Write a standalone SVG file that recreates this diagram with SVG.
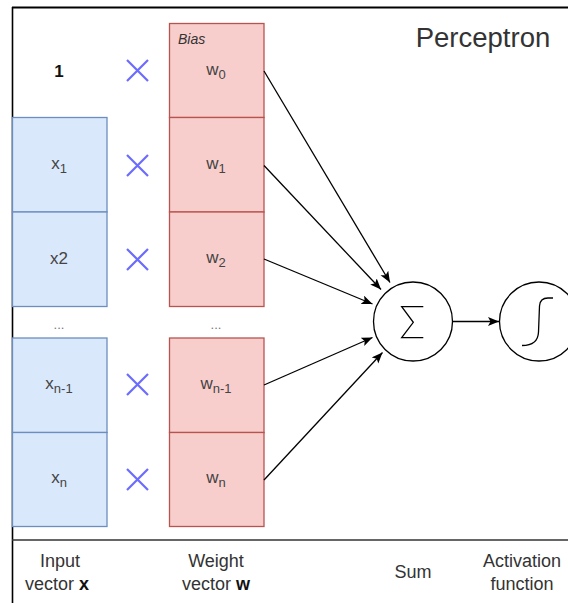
<svg xmlns="http://www.w3.org/2000/svg" width="568" height="603" viewBox="0 0 568 603">
<style>
.bx{fill:#dae8fc;stroke:#6c8ebf;stroke-width:1.3}
.wx{fill:#f8cecc;stroke:#b85450;stroke-width:1.3}
.lb{font-family:"Liberation Sans",Arial,sans-serif;font-size:17px;fill:#444444;text-anchor:middle}
.sub{font-size:13px}
.mul{stroke:#6b6bff;stroke-width:2.2;fill:none}
.cn{stroke:#000;stroke-width:1.3;fill:none;marker-end:url(#ah)}
.bt{font-family:"Liberation Sans",Arial,sans-serif;font-size:18px;fill:#333333;text-anchor:middle}
.circ{fill:#fff;stroke:#000;stroke-width:1.3}
</style>
<defs>
<marker id="ah" markerUnits="userSpaceOnUse" markerWidth="12" markerHeight="10" refX="11" refY="4.5" orient="auto">
<path d="M0,0 L11,4.5 L0,9 L2.5,4.5 z" fill="#000"/>
</marker>
</defs>
<rect width="568" height="603" fill="#fff"/>
<g id="frame">
<line x1="12" y1="7.5" x2="568" y2="7.5" stroke="#000" stroke-width="2"/>
<line x1="12.5" y1="7" x2="12.5" y2="603" stroke="#000" stroke-width="1.6"/>
<line x1="12" y1="540" x2="568" y2="540" stroke="#333" stroke-width="1.6"/>
</g>
<text x="483" y="47" style="font-family:'Liberation Sans',Arial,sans-serif;font-size:27.5px;fill:#333333;text-anchor:middle">Perceptron</text>
<g id="one"><text x="59" y="77" style="font-family:'Liberation Sans',Arial,sans-serif;font-size:17px;font-weight:bold;fill:#111;text-anchor:middle">1</text></g>
<g id="x1"><rect class="bx" x="12.5" y="117.5" width="94.5" height="94.5"/><text class="lb" x="59" y="169">x<tspan class="sub" dy="4">1</tspan></text></g>
<g id="x2"><rect class="bx" x="12.5" y="212" width="94.5" height="94.5"/><text class="lb" x="59" y="264">x2</text></g>
<g id="xdots"><text class="lb" x="59" y="329" style="font-size:13px;fill:#777">...</text></g>
<g id="xn1"><rect class="bx" x="12.5" y="338" width="94.5" height="94.5"/><text class="lb" x="59" y="389">x<tspan class="sub" dy="4">n-1</tspan></text></g>
<g id="xn"><rect class="bx" x="12.5" y="432.5" width="94.5" height="94"/><text class="lb" x="59" y="483">x<tspan class="sub" dy="4">n</tspan></text></g>
<g id="mults">
<path class="mul" d="M127,60 L148,81 M148,60 L127,81"/>
<path class="mul" d="M127,155 L148,176 M148,155 L127,176"/>
<path class="mul" d="M127,249 L148,270 M148,249 L127,270"/>
<path class="mul" d="M127,374 L148,395 M148,374 L127,395"/>
<path class="mul" d="M127,469 L148,490 M148,469 L127,490"/>
</g>
<g id="w0"><rect class="wx" x="169.5" y="23.5" width="94.5" height="94"/><text x="178" y="44" style="font-family:'Liberation Sans',Arial,sans-serif;font-size:14px;font-style:italic;fill:#333">Bias</text><text class="lb" x="216" y="75">w<tspan class="sub" dy="4">0</tspan></text></g>
<g id="w1"><rect class="wx" x="169.5" y="117.5" width="94.5" height="94.5"/><text class="lb" x="216" y="169">w<tspan class="sub" dy="4">1</tspan></text></g>
<g id="w2"><rect class="wx" x="169.5" y="212" width="94.5" height="94.5"/><text class="lb" x="216" y="263">w<tspan class="sub" dy="4">2</tspan></text></g>
<g id="wdots"><text class="lb" x="216" y="329" style="font-size:13px;fill:#777">...</text></g>
<g id="wn1"><rect class="wx" x="169.5" y="338" width="94.5" height="94.5"/><text class="lb" x="216" y="389">w<tspan class="sub" dy="4">n-1</tspan></text></g>
<g id="wn"><rect class="wx" x="169.5" y="432.5" width="94.5" height="94"/><text class="lb" x="216" y="483">w<tspan class="sub" dy="4">n</tspan></text></g>
<g id="connectors">
<line class="cn" x1="264" y1="71" x2="390" y2="282.5"/>
<line class="cn" x1="264" y1="165.5" x2="381" y2="289.5"/>
<line class="cn" x1="264" y1="259" x2="372.5" y2="304"/>
<line class="cn" x1="264" y1="385" x2="372.5" y2="337.5"/>
<line class="cn" x1="264" y1="480" x2="382.5" y2="352.5"/>
<line class="cn" x1="453" y1="321.5" x2="499" y2="321.5"/>
</g>
<g id="sum"><circle class="circ" cx="413" cy="321.5" r="39.5"/><path d="M423.3,306.7 L401.7,306.7 L413.3,322.3 L401.7,337.7 L423.3,337.7" fill="none" stroke="#000" stroke-width="1.3"/></g>
<g id="activation"><circle class="circ" cx="539" cy="321.5" r="39.5"/><path d="M522,345.5 Q538,345.5 538.5,332 L539.5,306 Q540,298 548,298 L553,298" fill="none" stroke="#000" stroke-width="1.3"/></g>
<g id="labels">
<text class="bt" x="60" y="567">Input</text>
<text class="bt" x="57" y="590">vector <tspan font-weight="bold" fill="#111">x</tspan></text>
<text class="bt" x="216" y="567">Weight</text>
<text class="bt" x="216" y="590">vector <tspan font-weight="bold" fill="#111">w</tspan></text>
<text class="bt" x="413" y="578">Sum</text>
<text class="bt" x="522" y="567">Activation</text>
<text class="bt" x="522" y="590">function</text>
</g>
</svg>
